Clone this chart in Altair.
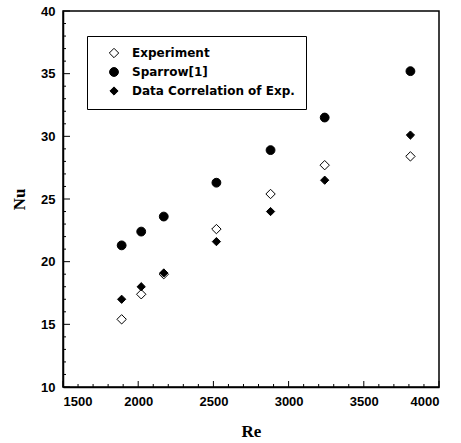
import altair as alt
import pandas as pd

# Reynolds numbers of the measurement points
re_vals = [1890, 2020, 2170, 2520, 2880, 3240, 3810]

# Nusselt numbers for each series
nu_experiment = [15.4, 17.4, 19.0, 22.6, 25.4, 27.7, 28.4]
nu_sparrow = [21.3, 22.4, 23.6, 26.3, 28.9, 31.5, 35.2]
nu_correlation = [17.0, 18.0, 19.1, 21.6, 24.0, 26.5, 30.1]

series_names = ["Experiment", "Sparrow[1]", "Data Correlation of Exp."]
series_shapes = ["diamond", "circle", "diamond"]
series_fills = ["white", "black", "black"]
series_sizes = [88, 68, 92]

# axis ticks
x_major = [1500, 2000, 2500, 3000, 3500, 4000]
x_minor = [v for v in range(1600, 4000, 100) if v % 500 != 0]
y_major = [10, 15, 20, 25, 30, 35, 40]
y_minor = [v for v in range(11, 40) if v % 5 != 0]

W, H = 376, 376

rows = []
for name, vals in zip(series_names, [nu_experiment, nu_sparrow, nu_correlation]):
    for r, n in zip(re_vals, vals):
        rows.append({"Re": r, "Nu": n, "series": name})
df = pd.DataFrame(rows)

xscale = alt.Scale(domain=[1500, 4000], nice=False, zero=False)
yscale = alt.Scale(domain=[10, 40], nice=False, zero=False)

legend = alt.Legend(
    title=None, orient="none", legendX=24, legendY=25,
    strokeColor="black", fillColor="white",
    padding=11, symbolOffset=10, labelOffset=12, rowPadding=5, labelLimit=400,
    labelFont="DejaVu Sans", labelFontWeight="bold", labelFontSize=12,
    labelColor="black", symbolStrokeColor="black", symbolStrokeWidth=1,
)

series_scale = dict(domain=series_names)

points = alt.Chart(df).mark_point(strokeWidth=1, opacity=1).encode(
    x=alt.X("Re:Q", scale=xscale, title="Re",
            axis=alt.Axis(values=x_major, ticks=False, grid=False, format="d")),
    y=alt.Y("Nu:Q", scale=yscale, title="Nu",
            axis=alt.Axis(values=y_major, ticks=False, grid=False)),
    shape=alt.Shape("series:N", scale=alt.Scale(range=series_shapes, **series_scale), legend=legend),
    fill=alt.Fill("series:N", scale=alt.Scale(range=series_fills, **series_scale), legend=legend),
    stroke=alt.Stroke("series:N", scale=alt.Scale(range=["black"] * 3, **series_scale), legend=legend),
    size=alt.Size("series:N", scale=alt.Scale(range=series_sizes, **series_scale), legend=legend),
)

# inward tick marks
def yticks(vals, length):
    return alt.Chart(pd.DataFrame({"v": vals})).mark_rule(color="black", strokeWidth=1).encode(
        y=alt.Y("v:Q", scale=yscale), x=alt.value(0), x2=alt.value(length))

def xticks(vals, length):
    return alt.Chart(pd.DataFrame({"v": vals})).mark_rule(color="black", strokeWidth=1).encode(
        x=alt.X("v:Q", scale=xscale), y=alt.value(H), y2=alt.value(H - length))

chart = alt.layer(
    yticks(y_major, 7), yticks(y_minor, 3),
    xticks(x_major, 6), xticks(x_minor, 3),
    points,
).properties(
    width=W, height=H,
    autosize=alt.AutoSizeParams(type="none"),
    padding={"left": 63, "top": 11, "right": 22, "bottom": 56},
).configure_view(
    stroke="black", strokeWidth=1.5
).configure_legend(
    strokeWidth=1
).configure_axis(
    domainColor="black", domainWidth=1.5,
    labelFont="Liberation Sans", labelFontWeight="bold", labelFontSize=13, labelColor="black",
    titleFont="Liberation Serif", titleFontWeight="bold", titleFontSize=17, titleColor="black",
).configure_axisX(
    labelPadding=8, titlePadding=15
).configure_axisY(
    labelPadding=8, titlePadding=12
)

chart.save("out.html", embed_options={"renderer": "svg", "actions": False})
